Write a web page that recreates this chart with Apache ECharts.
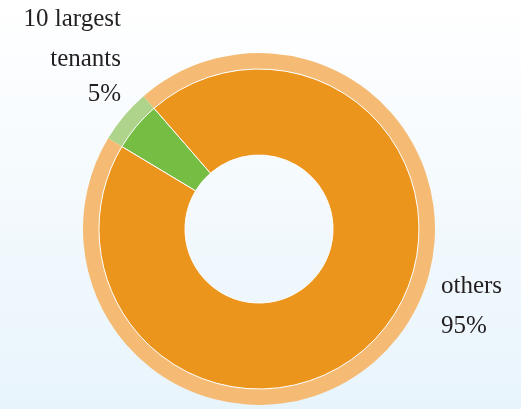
<!DOCTYPE html>
<html>
<head>
<meta charset="utf-8">
<script src="https://cdn.jsdelivr.net/npm/echarts@6/dist/echarts.min.js"></script>
<style>
  html, body { margin: 0; padding: 0; }
  #chart { width: 521px; height: 409px; }
</style>
</head>
<body>
<div id="chart"></div>
<script>
// tenant share of rent
const categories = ["10 largest\ntenants", "others"];
const shares = [5, 95];
const darkColors = ["#76be43", "#ec951d"];
const lightColors = ["#add48a", "#f5bb74"];

const chart = echarts.init(document.getElementById("chart"));

const font = "'Liberation Serif', 'DejaVu Serif', serif";

const option = {
  backgroundColor: {
    type: "linear", x: 0, y: 0, x2: 0, y2: 1,
    colorStops: [
      { offset: 0, color: "#ffffff" },
      { offset: 1, color: "#e8f4fc" },
    ],
  },
  animation: false,
  series: [
    {
      // pale outer ring, carries the labels
      type: "pie",
      center: [259, 229],
      radius: [160, 176],
      startAngle: 149,
      silent: true,
      data: categories.map((c, i) => ({
        name: c,
        value: shares[i],
        itemStyle: { color: lightColors[i] },
      })),
      labelLine: { show: false },
      label: {
        show: true,
        position: "outside",
        overflow: "none",
        formatter: (p) => {
          const pct = p.dataIndex === 0 ? "{c|" : "{b|";
          return "{a|" + p.name.split("\n").join("}\n{a|") + "}\n" + pct + p.value + "%}";
        },
        rich: {
          a: { fontFamily: font, fontSize: 25, lineHeight: 40, color: "#231f20" },
          b: { fontFamily: font, fontSize: 25, lineHeight: 40, color: "#231f20" },
          c: { fontFamily: font, fontSize: 25, lineHeight: 30, color: "#231f20" },
        },
      },
      labelLayout: (p) => {
        if (p.dataIndex === 0) {
          return { x: 121, y: -1, align: "right", verticalAlign: "top" };
        }
        return { x: 441, y: 266, align: "left", verticalAlign: "top" };
      },
    },
    {
      // main donut
      type: "pie",
      center: [259, 229],
      radius: [74, 160],
      startAngle: 149,
      silent: true,
      label: { show: false },
      labelLine: { show: false },
      itemStyle: { borderColor: "#ffffff", borderWidth: 1 },
      data: categories.map((c, i) => ({
        name: c,
        value: shares[i],
        itemStyle: { color: darkColors[i] },
      })),
    },
  ],
};

chart.setOption(option);
</script>
</body>
</html>
